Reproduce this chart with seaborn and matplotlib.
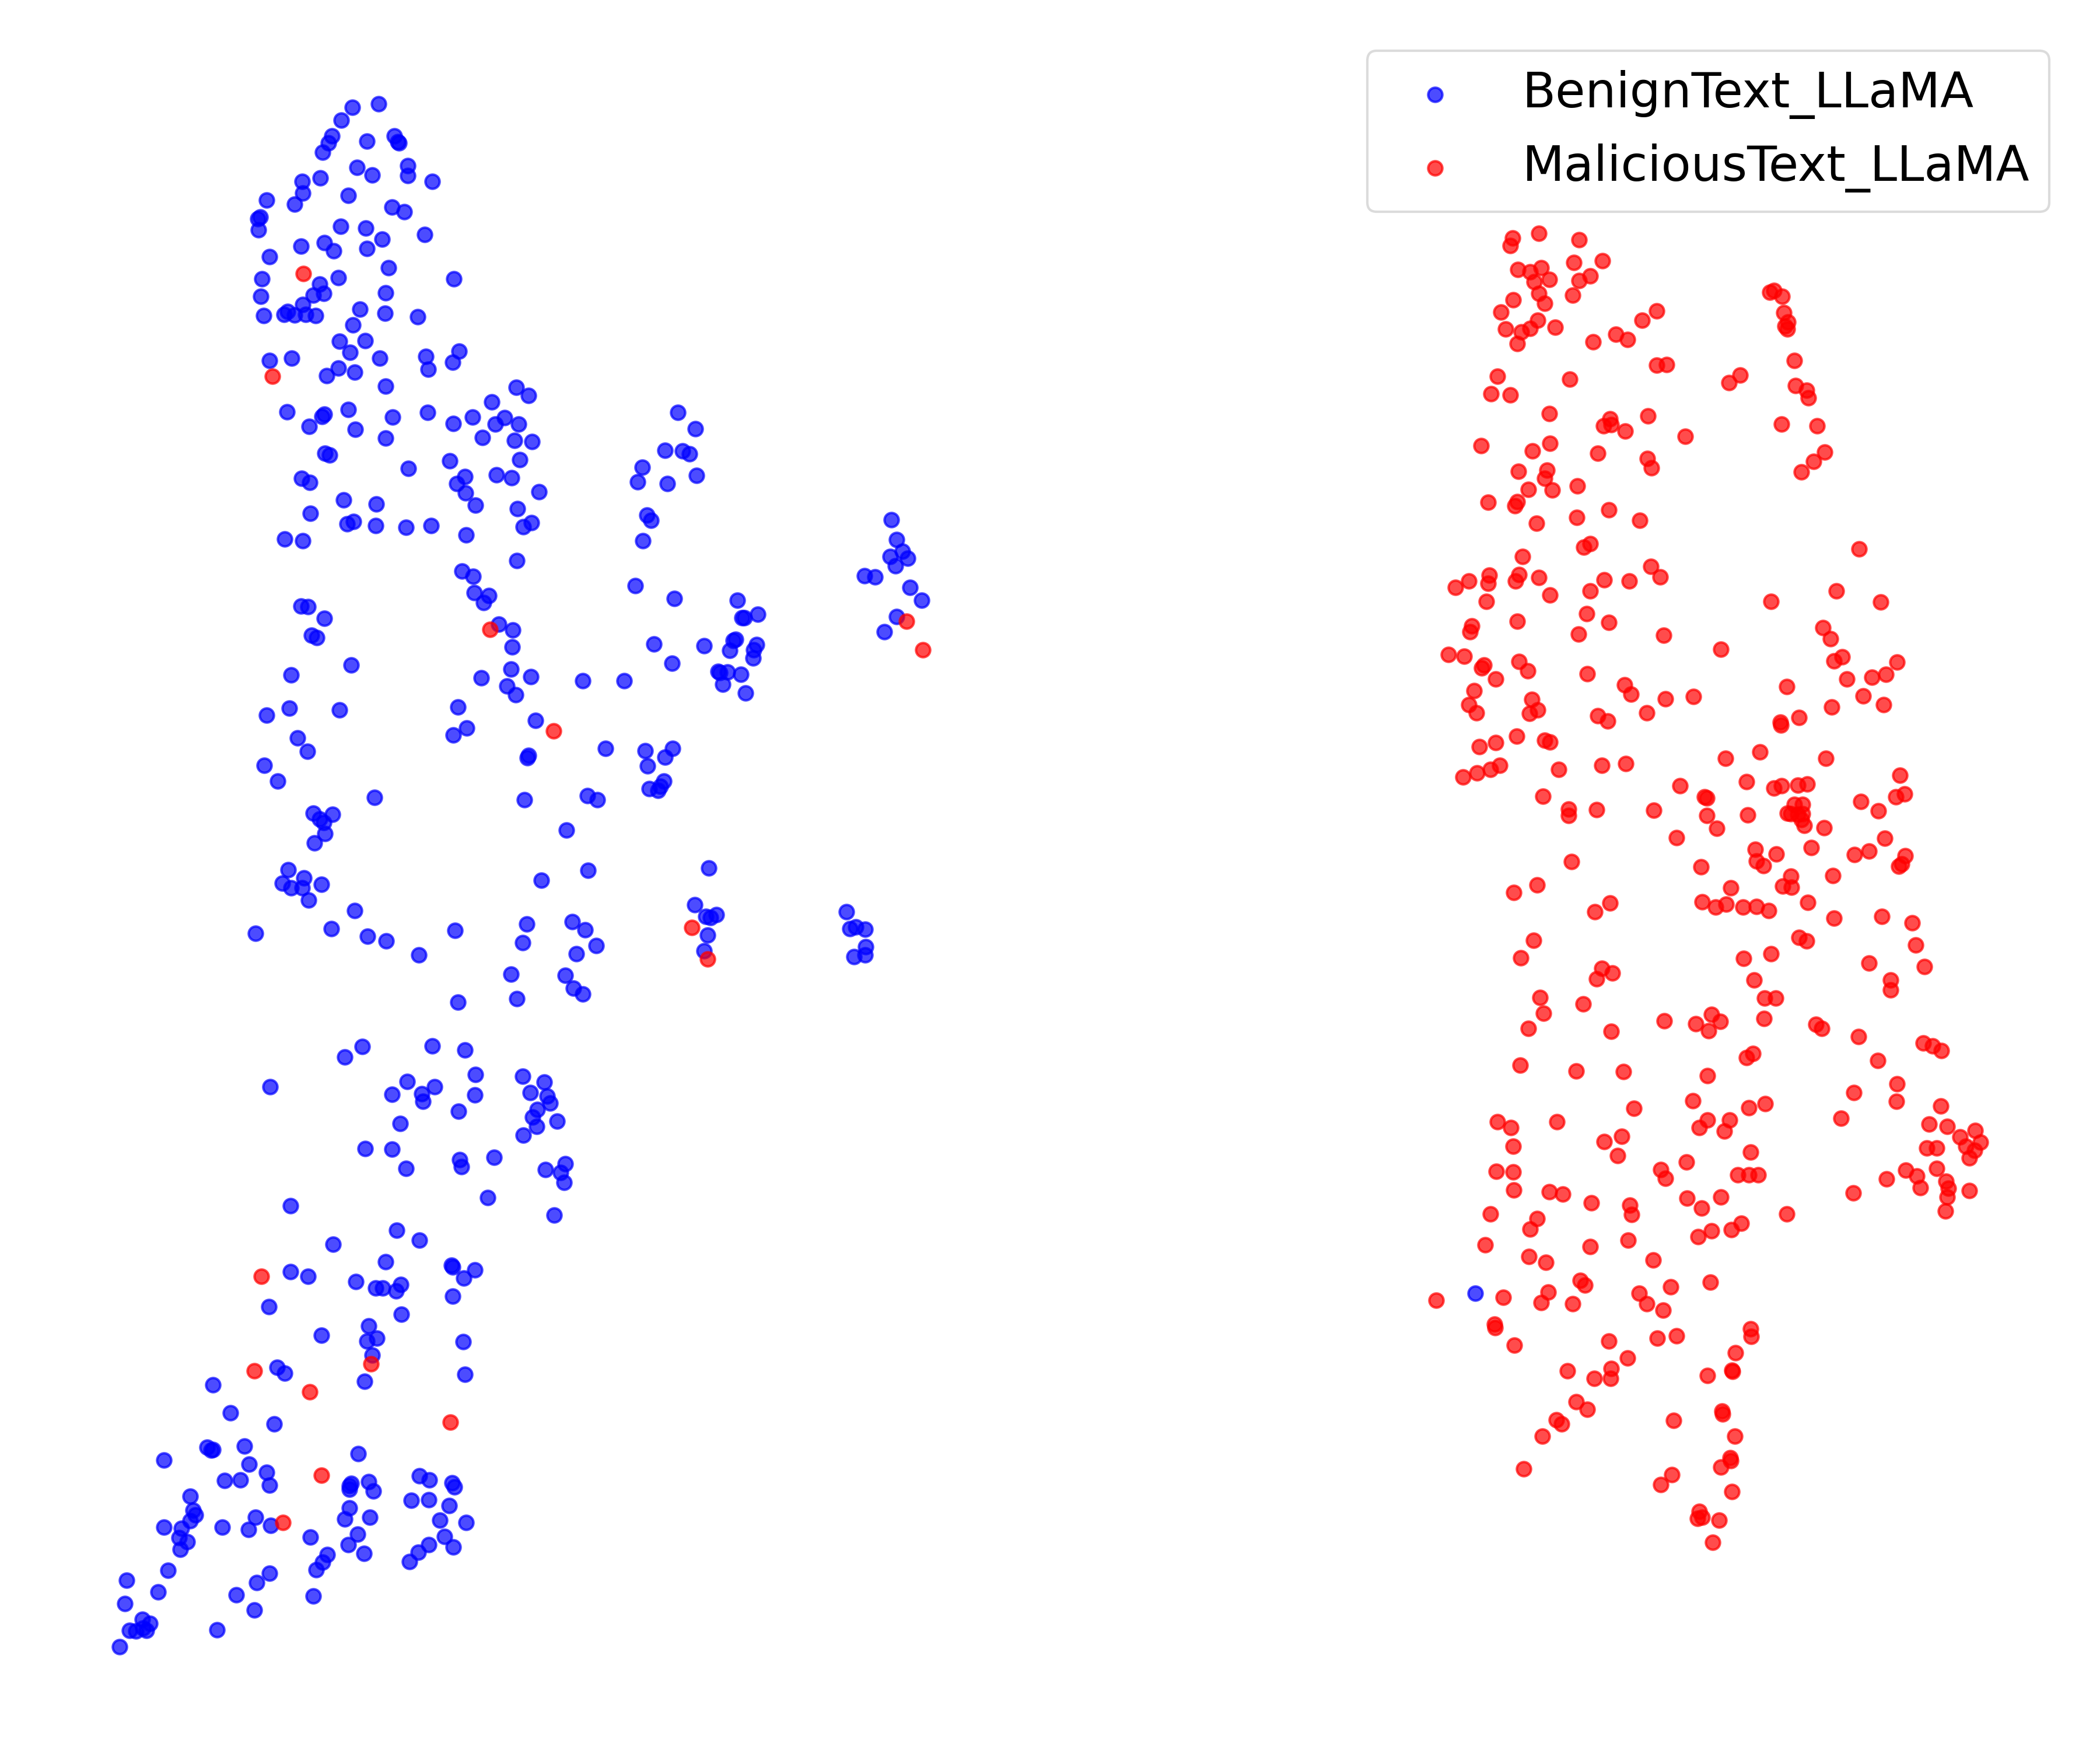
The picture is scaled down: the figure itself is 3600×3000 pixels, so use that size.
import numpy as np
import matplotlib
matplotlib.use('Agg')
import matplotlib.pyplot as plt
import seaborn as sns

# 2D embedding positions, one crop at a time.
# Each crop has its own window (left, top, width, height) in picture units.
CROP_UPPER_LEFT = (150, 130, 800, 850)
CROP_MIDDLE_LEFT = (380, 680, 1250, 1000)
CROP_LOWER_LEFT = (150, 1700, 900, 1150)
CROP_UPPER_RIGHT = (2300, 60, 1250, 1000)
CROP_MIDDLE_RIGHT = (2400, 1000, 1050, 900)
CROP_LOWER_RIGHT = (2400, 1800, 1050, 900)
CROP_SIZE = 1568

benign_upper = [(890,100),(978,88),(853,140),(822,190),(810,212),(790,242),(939,207),(1030,190),(1042,208),(1047,212),(1077,285),(1077,315),(905,290),(957,314),(1159,334),(722,334),(782,323),(724,371),(696,405),(877,379),(602,393),(1024,415),(1065,430),(580,446),(572,452),(575,487),(851,476),(935,482),(1133,502),(990,517),(796,528),(828,554),(718,539),(939,546),(612,572),(1012,607),(843,638),(1231,642),(586,642),(781,658),(1002,686),(793,688),(759,694),(583,697),(724,724),(916,738),(1000,750),(1110,762),(592,758),(660,754),(672,746),(696,756),(733,754),(766,759),(892,788),(847,840),(932,838),(882,875),(1137,887),(1249,871),(1226,906),(686,893),(612,900),(982,893),(1145,928),(843,924),(898,937),(804,948),(1002,982),(1440,985),(1481,1011),(1359,1032),(671,1063),(796,1070),(787,1077),(877,1055),(1026,1079),(1143,1065),(1294,1079),(1229,1100),(1370,1102),(1402,1081),(1449,1101),(745,1109),(900,1118),(1002,1146),(1327,1144),(1435,1153),(1494,1157)]
benign_middle = [(981,42),(1018,87),(953,144),(991,146),(1006,153),(222,152),(232,157),(641,170),(491,173),(401,193),(905,190),(1021,212),(172,220),(190,231),(523,215),(591,210),(624,218),(505,233),(895,229),(958,234),(524,258),(683,256),(262,278),(332,288),(546,291),(636,301),(191,313),(914,319),(923,333),(284,336),(270,342),(331,347),(396,351),(450,347),(666,339),(649,350),(526,372),(135,383),(174,388),(906,387),(1440,331),(1451,384),(1464,415),(1437,430),(1475,435),(1449,455),(635,441),(517,469),(541,483),(889,508),(1382,481),(1405,484),(1480,513),(1505,547),(973,543),(543,527),(575,534),(563,554),(171,563),(186,565),(221,596),(1109,547),(1153,585),(1119,594),(1124,594),(1451,591),(596,612),(626,627),(193,641),(205,648),(1425,632),(625,672),(930,665),(1037,670),(1100,655),(1105,652),(1093,682),(1150,667),(1144,680),(1143,702),(279,721),(969,716),(149,748),(622,733),(558,756),(665,753),(776,764),(865,764),(1067,738),(1071,742),(1087,740),(1117,746),(1077,773),(1126,796),(613,777),(632,801),(145,837),(97,856),(254,842),(508,834),(675,870),(527,891),(498,910),(163,917),(184,954),(826,946),(911,951),(970,946),(953,969),(660,965),(657,970),(916,993),(92,991),(120,1033),(951,1033),(919,1054),(943,1047),(938,1058),(329,1077),(651,1084),(787,1073),(808,1084),(197,1120),(238,1123),(211,1135),(219,1145),(222,1175),(199,1199),(741,1165),(143,1271),(177,1293),(130,1308),(149,1320),(173,1321),(215,1311),(187,1353),(788,1273),(687,1300),(1047,1267),(286,1381),(1017,1366),(1064,1392),(1041,1397),(1051,1400),(1343,1384),(73,1443),(236,1430),(314,1450),(354,1463),(502,1435),(656,1417),(754,1411),(782,1433),(1045,1447),(1351,1430),(1363,1425),(1384,1432),(647,1468),(805,1476),(763,1497),(424,1501),(1038,1489),(1385,1479),(1383,1500),(1360,1505),(622,1553),(739,1556)]
benign_lower = [(1452,-8),(1480,5),(1107,25),(1283,17),(768,153),(820,128),(1029,127),(1128,137),(1159,193),(1299,198),(1365,212),(955,210),(1037,222),(998,238),(1001,257),(910,240),(546,222),(1157,241),(1108,280),(1323,236),(1373,244),(1382,261),(1344,275),(1329,293),(1403,303),(1342,315),(1302,336),(933,308),(830,367),(910,368),(952,413),(1112,392),(1116,409),(1215,387),(1368,416),(1427,402),(1413,422),(1424,446),(1196,481),(1394,522),(607,500),(924,558),(992,581),(734,590),(891,631),(1088,639),(1091,643),(1156,650),(1124,669),(607,655),(659,665),(802,677),(861,693),(882,693),(935,684),(921,700),(1091,712),(541,736),(938,754),(840,781),(698,803),(865,810),(835,817),(1122,818),(851,849),(567,878),(588,892),(1128,895),(828,911),(374,919),(427,985),(558,1010),(358,1065),(369,1072),(375,1071),(469,1062),(229,1095),(808,1080),(483,1105),(534,1124),(409,1143),(456,1141),(543,1154),(992,1132),(1021,1141),(1089,1148),(1096,1157),(788,1150),(783,1155),(783,1163),(839,1145),(854,1167),(306,1180),(316,1212),(322,1223),(306,1237),(280,1254),(229,1252),(403,1252),(502,1228),(480,1257),(547,1247),(967,1189),(1020,1187),(1081,1201),(783,1206),(769,1233),(844,1228),(1053,1235),(1130,1241),(273,1276),(298,1286),(277,1303),(666,1275),(806,1268),(778,1293),(825,1313),(1067,1273),(1020,1293),(1093,1298),(988,1310),(961,1332),(716,1316),(702,1334),(683,1351),(241,1353),(544,1360),(506,1381),(117,1376),(210,1403),(445,1410),(675,1413),(112,1430),(499,1445),(163,1467),(187,1476),(125,1493),(145,1495),(165,1487),(176,1493),(386,1492),(96,1531)]
benign_stray = [(193,727)]

malicious_left_upper = [(726,626),(622,950)]
malicious_left_middle = [(577,626),(1473,604),(1508,681),(714,899),(1011,1427),(1045,1512)]
malicious_left_lower = [(520,665),(846,870),(499,886),(664,935),(1084,1006),(699,1130),(584,1241)]
malicious_upper = [(367,546),(362,566),(424,533),(510,551),(561,607),(499,611),(379,630),(405,637),(429,626),(446,657),(414,663),(534,648),(510,660),(424,694),(497,700),(369,712),(437,721),(921,692),(929,686),(947,703),(951,747),(959,772),(953,782),(958,790),(342,745),(677,742),(646,767),(421,767),(352,790),(405,789),(386,798),(459,786),(590,804),(615,819),(378,830),(541,825),(974,875),(678,887),(699,886),(335,917),(491,925),(857,914),(833,934),(976,942),(1000,955),(1003,976),(321,965),(362,968),(447,1018),(577,1031),(563,1050),(579,1048),(610,1064),(658,1024),(946,1046),(1022,1051),(739,1079),(300,1104),(448,1098),(410,1118),(551,1125),(657,1139),(666,1164),(1039,1121),(1015,1146),(988,1174),(380,1173),(442,1169),(437,1192),(402,1222),(453,1223),(507,1212),(315,1256),(378,1254),(372,1265),(575,1276),(506,1296),(641,1305),(419,1312),(534,1367),(521,1376),(389,1402),(1113,1382),(665,1428),(685,1456),(317,1452),(315,1474),(273,1467),(374,1468),(381,1450),(424,1459),(565,1464),(618,1467)]
malicious_middle = [(142,12),(384,34),(487,22),(221,54),(950,54),(1117,23),(1231,56),(478,91),(535,117),(300,114),(184,128),(179,145),(457,152),(675,155),(1083,132),(1102,166),(821,196),(124,213),(165,218),(215,244),(209,252),(305,233),(327,262),(245,285),(1132,219),(1111,232),(1273,235),(479,270),(1144,286),(1208,281),(1244,272),(575,304),(591,331),(990,309),(189,320),(680,345),(751,338),(1186,337),(338,347),(176,362),(196,387),(352,378),(332,388),(1105,370),(1238,362),(632,387),(506,395),(532,411),(1022,401),(973,415),(975,423),(299,457),(371,469),(384,474),(245,476),(203,488),(921,504),(1090,523),(833,523),(255,544),(232,555),(197,566),(162,579),(406,556),(517,544),(578,539),(717,605),(887,593),(1280,574),(957,612),(977,605),(1018,602),(1043,600),(366,636),(779,638),(786,642),(1270,638),(1292,629),(1180,652),(431,675),(431,693),(503,676),(650,677),(786,693),(890,692),(1225,680),(1010,660),(1030,660),(991,686),(1000,688),(1018,690),(1030,688),(1028,705),(1035,723),(811,732),(1086,730),(708,760),(1241,762),(910,795),(963,809),(1053,790),(1164,810),(1200,800),(1293,813),(1285,838),(1277,845),(439,831),(912,829),(930,843),(771,846),(1108,873),(1000,874),(351,901),(291,923),(846,910),(979,904),(1002,907),(537,954),(499,981),(773,951),(808,967),(835,959),(878,967),(912,965),(944,977),(1044,953),(1111,1000),(1234,995),(1311,1014),(342,1066),(309,1119),(1021,1057),(1041,1068),(1320,1080),(880,1120),(950,1106),(1201,1135),(1343,1144),(517,1149),(544,1163),(503,1182),(907,1185),(1256,1184),(1256,1214),(934,1238),(962,1238),(358,1237),(469,1256),(367,1284),(329,1330),(541,1338),(677,1306),(757,1316),(797,1288),(820,1309),(790,1337),(932,1300),(1065,1317),(1080,1330),(1174,1354),(1339,1373),(1364,1381),(1386,1395),(1223,1425),(887,1416),(904,1404)]
malicious_lower = [(308,45),(451,62),(572,65),(787,77),(1272,101),(1162,127),(1271,154),(750,152),(599,175),(893,173),(935,161),(1385,167),(1129,203),(249,215),(284,231),(401,214),(787,209),(844,209),(766,232),(830,242),(1355,221),(1401,229),(1473,240),(1434,259),(1486,275),(568,258),(523,274),(290,288),(1449,287),(1349,292),(1374,292),(1471,300),(1457,323),(557,316),(898,305),(733,335),(246,363),(290,364),(667,357),(680,384),(864,373),(893,373),(917,373),(1374,353),(1295,359),(1323,377),(1246,385),(1398,392),(1404,413),(1332,412),(291,418),(383,423),(417,431),(1160,427),(1458,420),(1400,439),(490,457),(589,464),(593,492),(735,443),(821,439),(772,472),(1397,480),(232,490),(351,503),(333,534),(990,490),(874,518),(848,537),(798,540),(763,558),(584,568),(487,587),(218,582),(330,617),(373,635),(648,628),(462,688),(473,702),(795,694),(693,708),(379,723),(264,739),(361,755),(442,758),(93,748),(612,727),(631,757),(674,777),(242,818),(244,829),(293,882),(898,833),(899,856),(708,854),(659,861),(535,869),(859,905),(582,920),(541,951),(539,980),(497,980),(429,959),(787,973),(849,957),(851,960),(451,1050),(479,1074),(400,1105),(414,1116),(700,1107),(825,1078),(826,1088),(857,1154),(364,1154),(845,1218),(846,1226),(821,1246),(317,1251),(696,1269),(668,1298),(850,1318),(766,1378),(762,1399),(774,1396),(817,1405),(801,1471)]


def from_crop(points, crop):
    # crop readings -> common picture units
    left, top, width, height = crop
    pts = np.array(points, dtype=float)
    return np.column_stack((left + pts[:, 0] * width / CROP_SIZE,
                            top + pts[:, 1] * height / CROP_SIZE))


benign = np.vstack((
    from_crop(benign_upper, CROP_UPPER_LEFT),
    from_crop(benign_middle, CROP_MIDDLE_LEFT),
    from_crop(benign_lower, CROP_LOWER_LEFT),
    from_crop(benign_stray, CROP_LOWER_RIGHT),
))
malicious = np.vstack((
    from_crop(malicious_left_upper, CROP_UPPER_LEFT),
    from_crop(malicious_left_middle, CROP_MIDDLE_LEFT),
    from_crop(malicious_left_lower, CROP_LOWER_LEFT),
    from_crop(malicious_upper, CROP_UPPER_RIGHT),
    from_crop(malicious_middle, CROP_MIDDLE_RIGHT),
    from_crop(malicious_lower, CROP_LOWER_RIGHT),
))

sns.set_style('white', {'text.color': 'black'})
fig = plt.figure(figsize=(12, 10))
ax = fig.add_axes([0, 0, 1, 1])

sns.scatterplot(x=benign[:, 0], y=benign[:, 1], color='blue', s=34, alpha=0.7,
                label='BenignText_LLaMA', ax=ax)
sns.scatterplot(x=malicious[:, 0], y=malicious[:, 1], color='red', s=34, alpha=0.7,
                label='MaliciousText_LLaMA', ax=ax)

# seaborn leaves a thin white edge, the plain matplotlib look has the face colour
for coll in ax.collections:
    coll.set_edgecolor('face')
    coll.set_linewidth(1.0)

ax.set_xlim(0, 3600)
ax.set_ylim(3000, 0)
ax.axis('off')

ax.legend(loc='upper right', bbox_to_anchor=(3513 / 3600, 1 - 87 / 3000), borderaxespad=0,
          fontsize=20, frameon=True, edgecolor='lightgrey', facecolor='white', framealpha=0.8)

fig.savefig('out.png', dpi=300)
plt.close(fig)
